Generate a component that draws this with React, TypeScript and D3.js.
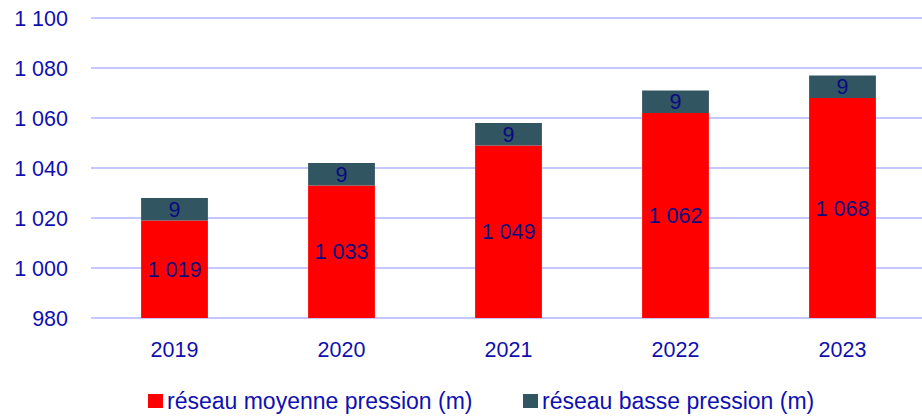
import React, { useEffect, useRef } from 'react';
import * as d3 from 'd3';

// chart values
const years = ['2019', '2020', '2021', '2022', '2023'];
const moyenne = [1019, 1033, 1049, 1062, 1068];
const basse = [9, 9, 9, 9, 9];
const yTicks = [980, 1000, 1020, 1040, 1060, 1080, 1100];
const seriesNames = ['réseau moyenne pression (m)', 'réseau basse pression (m)'];
const seriesColors = ['#ff0000', '#325562'];

const App = () => {
  const ref = useRef<SVGSVGElement>(null);

  useEffect(() => {
    if (!ref.current) return;
    const svg = d3.select(ref.current);
    svg.selectAll('*').remove();

    const width = 922;
    const left = 91, right = 926, top = 18, bottom = 318;
    const font = '"Liberation Sans", Arial, sans-serif';
    const fontSize = '21.5px';
    const textColor = '#1010b0';
    const fmt = d3.formatLocale({ decimal: ',', thousands: ' ', grouping: [3], currency: ['', ' €'] }).format(',d');

    const x = d3.scaleBand().domain(years).range([left, right]).paddingInner(0.6).paddingOuter(0.3);
    const y = d3.scaleLinear().domain([980, 1100]).range([bottom, top]);

    // grid
    svg.append('g')
      .selectAll('line')
      .data(yTicks)
      .enter()
      .append('line')
        .attr('x1', left)
        .attr('x2', width)
        .attr('y1', d => y(d))
        .attr('y2', d => y(d))
        .attr('stroke', '#b4b4ff')
        .attr('stroke-width', 1.5);

    svg.append('g')
      .selectAll('text')
      .data(yTicks)
      .enter()
      .append('text')
        .attr('x', 68)
        .attr('y', d => y(d))
        .attr('dy', '0.35em')
        .attr('text-anchor', 'end')
        .style('font-family', font)
        .style('font-size', fontSize)
        .style('fill', textColor)
        .text(d => fmt(d));

    const rows = years.map((yr, i) => ({ yr, m: moyenne[i], b: basse[i] }));

    const g = svg.append('g');
    g.selectAll('rect.m')
      .data(rows)
      .enter()
      .append('rect')
        .attr('class', 'm')
        .attr('x', d => x(d.yr)!)
        .attr('width', x.bandwidth())
        .attr('y', d => y(d.m))
        .attr('height', d => y(980) - y(d.m))
        .attr('fill', seriesColors[0]);
    g.selectAll('rect.b')
      .data(rows)
      .enter()
      .append('rect')
        .attr('class', 'b')
        .attr('x', d => x(d.yr)!)
        .attr('width', x.bandwidth())
        .attr('y', d => y(d.m + d.b))
        .attr('height', d => y(d.m) - y(d.m + d.b))
        .attr('fill', seriesColors[1]);

    // value labels
    g.selectAll('text.lm')
      .data(rows)
      .enter()
      .append('text')
        .attr('x', d => x(d.yr)! + x.bandwidth() / 2)
        .attr('y', d => (y(980) + y(d.m)) / 2)
        .attr('dy', '0.35em')
        .attr('text-anchor', 'middle')
        .style('font-family', font)
        .style('font-size', fontSize)
        .style('fill', '#0a0a80')
        .text(d => fmt(d.m));
    g.selectAll('text.lb')
      .data(rows)
      .enter()
      .append('text')
        .attr('x', d => x(d.yr)! + x.bandwidth() / 2)
        .attr('y', d => (y(d.m) + y(d.m + d.b)) / 2)
        .attr('dy', '0.35em')
        .attr('text-anchor', 'middle')
        .style('font-family', font)
        .style('font-size', fontSize)
        .style('fill', '#0a0a80')
        .text(d => fmt(d.b));

    // x labels
    svg.append('g')
      .selectAll('text')
      .data(years)
      .enter()
      .append('text')
        .attr('x', d => x(d)! + x.bandwidth() / 2)
        .attr('y', 349)
        .attr('dy', '0.35em')
        .attr('text-anchor', 'middle')
        .style('font-family', font)
        .style('font-size', fontSize)
        .style('fill', textColor)
        .text(d => d);

    // legend
    const legX = [148, 523];
    const leg = svg.append('g');
    seriesNames.forEach((name, i) => {
      leg.append('rect')
        .attr('x', legX[i])
        .attr('y', 394)
        .attr('width', 15)
        .attr('height', 14)
        .attr('fill', seriesColors[i]);
      leg.append('text')
        .attr('x', legX[i] + 19)
        .attr('y', 401)
        .attr('dy', '0.35em')
        .style('font-family', font)
        .style('font-size', '23px')
        .style('fill', textColor)
        .text(name);
    });
  }, []);

  return (
    <svg
      ref={ref}
      width={922}
      height={416}
      style={{ position: 'absolute', left: 0, top: 0, background: '#fff' }}
    />
  );
};

export default App;
